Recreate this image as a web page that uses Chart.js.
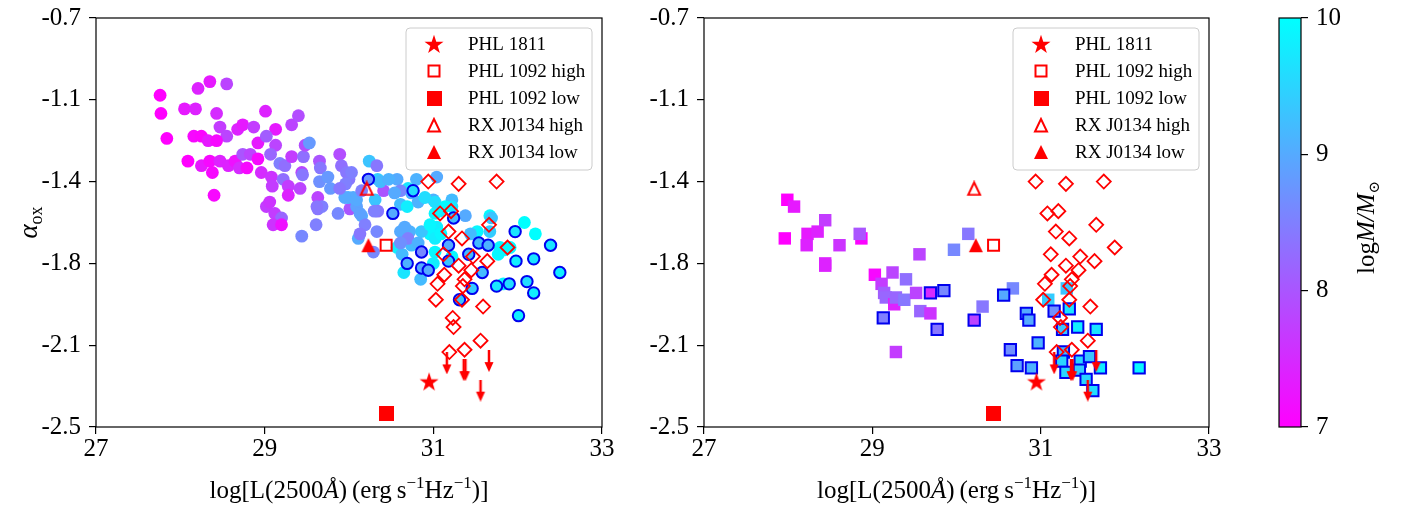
<!DOCTYPE html>
<html>
<head>
<meta charset="utf-8">
<script src="https://cdn.jsdelivr.net/npm/chart.js@4.4.0/dist/chart.umd.min.js"></script>
<style>
    html, body { margin: 0; padding: 0; background: #fff; }
    #wrap { position: relative; width: 1403px; height: 509px; overflow: hidden; }
    canvas { position: absolute; top: 0; }
</style>
</head>
<body>
<div id="wrap">
    <canvas id="leftChart" width="640" height="509" style="left:0"></canvas>
    <canvas id="rightChart" width="620" height="509" style="left:640px"></canvas>
    <canvas id="barChart" width="143" height="509" style="left:1260px"></canvas>
</div>
<script>
// ---- data ----
var xTicks = [27, 29, 31, 33];
var yTicks = [-0.7, -1.06, -1.42, -1.78, -2.14, -2.5];
var yTickLabels = ['-0.7', '-1.1', '-1.4', '-1.8', '-2.1', '-2.5'];
var massRange = [7, 10];
var massTicks = [7, 8, 9, 10];

// left panel, filled circles
var leftX = [27.76, 27.77, 27.84, 28.05, 28.18, 28.21, 28.35, 28.55, 28.43, 28.09,
    28.16, 28.25, 28.33, 28.47, 28.55, 28.43, 28.25, 28.35, 28.38, 28.47,
    28.40, 28.57, 28.65, 28.70, 28.74, 28.79, 28.83, 28.68, 28.74, 28.87,
    29.01, 29.13, 28.92, 29.02, 29.13, 28.92, 28.96, 29.07, 29.08, 29.09,
    29.18, 29.24, 29.32, 29.32, 29.40, 29.22, 29.28, 29.28, 29.02, 29.06,
    29.12, 29.20, 29.10, 29.44, 29.45, 29.42, 29.46, 29.48, 29.53, 29.65,
    29.66, 29.63, 29.63, 29.68, 29.61, 29.65, 29.75, 29.78, 29.87, 29.89,
    29.91, 29.97, 30.00, 29.96, 30.01, 30.09, 29.99, 30.15, 30.19, 30.24,
    30.33, 30.34, 30.31, 30.34, 29.20, 29.44, 30.11, 30.41, 30.37, 30.57,
    30.80, 31.04, 30.70, 30.61, 30.69, 30.82, 31.00, 31.07, 31.38, 31.22,
    31.04, 30.96, 30.72, 30.61, 30.33, 30.13, 30.30, 30.13, 30.05, 30.29,
    30.57, 30.74, 30.65, 30.85, 31.02, 31.52, 31.67, 31.79, 31.85, 32.08,
    32.21, 31.69, 31.67, 31.91, 31.77, 31.83, 30.86, 31.02, 31.02, 30.63,
    30.74, 30.61, 31.02, 31.22, 31.00, 31.22, 30.03, 29.95, 30.09, 30.15,
    29.89, 30.47, 30.54, 30.66, 30.90, 31.14, 30.96, 31.09, 31.44, 30.70,
    30.82, 30.61, 29.62];
var leftY = [-1.04, -1.12, -1.23, -1.10, -1.10, -1.01, -0.98, -0.99, -1.12, -1.33,
    -1.22, -1.22, -1.24, -1.18, -1.22, -1.24, -1.35, -1.33, -1.38, -1.33,
    -1.48, -1.35, -1.33, -1.36, -1.30, -1.36, -1.30, -1.19, -1.17, -1.18,
    -1.11, -1.19, -1.25, -1.22, -1.26, -1.32, -1.38, -1.30, -1.40, -1.44,
    -1.34, -1.35, -1.31, -1.17, -1.13, -1.41, -1.44, -1.48, -1.53, -1.51,
    -1.56, -1.58, -1.61, -1.38, -1.39, -1.45, -1.31, -1.26, -1.25, -1.33,
    -1.36, -1.49, -1.54, -1.53, -1.61, -1.42, -1.40, -1.45, -1.56, -1.30,
    -1.35, -1.38, -1.41, -1.43, -1.54, -1.53, -1.49, -1.57, -1.61, -1.33,
    -1.35, -1.41, -1.50, -1.55, -1.61, -1.66, -1.67, -1.46, -1.42, -1.41,
    -1.41, -1.40, -1.45, -1.52, -1.53, -1.51, -1.50, -1.55, -1.57, -1.50,
    -1.62, -1.65, -1.64, -1.64, -1.64, -1.65, -1.55, -1.56, -1.49, -1.73,
    -1.71, -1.70, -1.82, -1.85, -1.73, -1.64, -1.57, -1.71, -1.72, -1.60,
    -1.65, -1.58, -1.64, -1.71, -1.74, -1.87, -1.64, -1.56, -1.67, -1.74,
    -1.47, -1.46, -1.51, -1.53, -1.78, -1.75, -1.38, -1.49, -1.50, -1.46,
    -1.45, -1.41, -1.47, -1.62, -1.49, -1.53, -1.61, -1.65, -1.65, -1.67,
    -1.69, -1.69, -1.53];
var leftMass = [7.0, 7.0, 7.0, 7.3, 7.4, 7.4, 7.3, 7.8, 7.5, 7.0,
    7.1, 7.05, 7.3, 7.7, 7.8, 7.1, 7.3, 7.1, 7.1, 7.4,
    7.1, 7.4, 7.2, 7.5, 8.0, 7.1, 7.8, 7.4, 7.3, 7.7,
    7.4, 7.3, 7.3, 8.1, 7.8, 7.1, 7.5, 8.2, 7.6, 7.7,
    8.5, 8.3, 7.7, 7.8, 7.9, 8.3, 7.7, 7.4, 7.7, 7.6,
    7.7, 8.2, 7.6, 7.8, 8.4, 7.8, 8.3, 7.9, 8.8, 8.0,
    8.4, 7.8, 8.4, 8.5, 8.5, 8.7, 8.8, 8.8, 8.6, 7.9,
    8.3, 8.4, 8.4, 8.5, 8.0, 8.9, 9.1, 9.0, 8.5, 9.3,
    8.4, 9.4, 9.3, 8.4, 7.2, 8.6, 9.0, 8.0, 9.2, 9.0,
    9.1, 9.0, 9.7, 9.2, 9.8, 9.1, 9.1, 9.7, 9.0, 9.2,
    9.8, 9.9, 9.1, 9.0, 8.6, 8.4, 8.5, 8.9, 9.0, 8.6,
    9.8, 9.2, 9.7, 9.2, 9.9, 9.9, 9.9, 9.9, 9.9, 10,
    10, 9.3, 9.4, 9.9, 9.9, 9.9, 9.3, 9.9, 9.8, 9.2,
    9.1, 8.6, 9.6, 9.7, 9.8, 9.9, 8.5, 9.0, 9.0, 8.5,
    8.4, 9.1, 9.0, 9.0, 9.6, 9.9, 9.9, 9.9, 9.2, 8.5,
    9.1, 8.7, 8.4];

// left panel, circles with blue edge
var leftEdgeX = [30.23, 30.76, 30.52, 31.24, 30.86, 30.69, 30.86, 30.94, 31.18, 31.18,
    31.42, 31.54, 31.65, 31.58, 31.46, 31.31, 31.97, 31.98, 32.19, 32.39,
    32.50, 31.75, 31.90, 32.11, 32.19, 32.01];
var leftEdgeY = [-1.41, -1.46, -1.56, -1.58, -1.73, -1.78, -1.80, -1.81, -1.70, -1.77,
    -1.74, -1.69, -1.70, -1.82, -1.89, -1.94, -1.64, -1.77, -1.76, -1.70,
    -1.82, -1.88, -1.87, -1.86, -1.91, -2.01];
var leftEdgeMass = [8.8, 9.6, 9.0, 9.2, 8.6, 9.1, 9.0, 9.0, 9.0, 9.3,
    9.2, 9.2, 9.1, 9.2, 9.4, 9.3, 9.7, 9.8, 9.7, 9.7,
    9.8, 9.7, 9.6, 9.6, 9.8, 9.8];

// right panel, filled squares
var rightX = [27.99, 28.07, 27.96, 28.23, 28.22, 28.35, 28.44, 28.44, 28.44, 28.61,
    28.87, 28.85, 29.03, 29.11, 29.24, 29.40, 29.14, 29.16, 29.26, 29.28,
    29.38, 29.52, 29.57, 29.69, 29.56, 29.28, 29.97, 30.14, 30.31, 30.67,
    31.09, 31.31];
var rightY = [-1.50, -1.53, -1.67, -1.65, -1.70, -1.64, -1.59, -1.78, -1.79, -1.70,
    -1.67, -1.65, -1.83, -1.87, -1.82, -1.85, -1.91, -1.93, -1.96, -1.93,
    -1.94, -1.91, -1.99, -2.00, -1.74, -2.17, -1.72, -1.65, -1.97, -1.89,
    -1.94, -1.89];
var rightMass = [7.0, 7.3, 7.0, 7.3, 7.4, 7.4, 7.7, 7.4, 7.4, 7.6,
    7.05, 8.0, 7.1, 7.7, 7.8, 8.3, 8.1, 8.2, 7.4, 8.2,
    8.4, 7.8, 8.2, 7.6, 7.8, 7.7, 8.6, 8.4, 8.4, 8.6,
    9.4, 9.3];

// right panel, squares with blue edge
var rightEdgeX = [29.13, 29.69, 29.85, 29.77, 30.21, 30.56, 30.83, 30.86, 30.97, 30.64,
    30.72, 30.89, 31.16, 31.34, 31.26, 31.44, 31.66, 31.27, 31.25, 31.30,
    31.47, 31.46, 31.58, 31.54, 31.62, 31.71, 32.17];
var rightEdgeY = [-2.02, -1.91, -1.90, -2.07, -2.03, -1.92, -2.00, -2.03, -2.13, -2.16,
    -2.23, -2.24, -1.99, -1.98, -2.07, -2.06, -2.07, -2.17, -2.21, -2.26,
    -2.21, -2.25, -2.19, -2.29, -2.34, -2.24, -2.24];
var rightEdgeMass = [8.5, 7.5, 8.6, 8.4, 7.8, 9.0, 9.0, 9.0, 9.1, 8.7,
    8.9, 9.1, 8.7, 9.7, 9.3, 9.8, 9.7, 9.2, 9.5, 9.5,
    9.5, 9.4, 9.3, 9.5, 9.6, 9.8, 9.9];

// open red diamonds (both panels)
var diamondX = [30.94, 31.30, 31.75, 31.08, 31.21, 31.18, 31.34, 31.66, 31.88, 31.12,
    31.30, 31.47, 31.64, 31.13, 31.45, 31.05, 31.37, 31.35, 31.03, 31.34,
    31.59, 31.23, 31.24, 31.56, 31.19, 31.37];
var diamondY = [-1.42, -1.43, -1.42, -1.56, -1.55, -1.64, -1.67, -1.61, -1.71, -1.74,
    -1.79, -1.75, -1.77, -1.83, -1.81, -1.87, -1.85, -1.88, -1.94, -1.94,
    -1.97, -2.02, -2.06, -2.12, -2.17, -2.16];

// upper limits (arrows)
var limitX = [31.16, 31.36, 31.38, 31.66, 31.56];
var limitY = [-2.22, -2.25, -2.25, -2.21, -2.34];

// named sources
var specialNames = ['PHL 1811', 'PHL 1092 high', 'PHL 1092 low', 'RX J0134 high', 'RX J0134 low'];
var specialX = [30.95, 30.44, 30.44, 30.21, 30.23];
var specialY = [-2.30, -1.70, -2.44, -1.45, -1.70];

// ---- helpers ----
var FONT = "'Liberation Serif', 'DejaVu Serif', serif";

// matplotlib "cool" colormap over 7..10
function cool(m) {
    var t = Math.min(1, Math.max(0, (m - massRange[0]) / (massRange[1] - massRange[0])));
    return 'rgb(' + Math.round(255 * (1 - t)) + ',' + Math.round(255 * t) + ',255)';
}

function points(xs, ys) {
    return xs.map(function(x, i) { return {x: x, y: ys[i]}; });
}

function makeMarker(w, h, draw) {
    var c = document.createElement('canvas');
    c.width = w;
    c.height = h;
    var g = c.getContext('2d');
    g.fillStyle = 'red';
    g.strokeStyle = 'red';
    draw(g);
    return c;
}

var markers = {
    star: makeMarker(20, 20, function(g) {
        g.beginPath();
        for (var i = 0; i < 10; i++) {
            var r = i % 2 ? 3.9 : 10;
            var a = -Math.PI / 2 + i * Math.PI / 5;
            g.lineTo(10 + r * Math.cos(a), 10.8 + r * Math.sin(a));
        }
        g.closePath();
        g.fill();
    }),
    openSquare: makeMarker(15, 15, function(g) {
        g.lineWidth = 2;
        g.strokeRect(2, 2, 11, 11);
    }),
    fullSquare: makeMarker(15, 15, function(g) {
        g.fillRect(0, 0, 15, 15);
    }),
    openTri: makeMarker(16, 16, function(g) {
        g.lineWidth = 2;
        g.beginPath();
        g.moveTo(8, 2);
        g.lineTo(2, 14.5);
        g.lineTo(14, 14.5);
        g.closePath();
        g.stroke();
    }),
    fullTri: makeMarker(16, 16, function(g) {
        g.beginPath();
        g.moveTo(8, 1);
        g.lineTo(1, 15);
        g.lineTo(15, 15);
        g.closePath();
        g.fill();
    }),
    arrow: makeMarker(12, 22, function(g) {
        g.lineWidth = 2.5;
        g.beginPath();
        g.moveTo(6, 0);
        g.lineTo(6, 15);
        g.stroke();
        g.beginPath();
        g.moveTo(1.5, 12);
        g.lineTo(10.5, 12);
        g.lineTo(6, 22);
        g.closePath();
        g.fill();
    })
};
var specialMarkers = [markers.star, markers.openSquare, markers.fullSquare, markers.openTri, markers.fullTri];

// text with mixed fonts / sub- and superscripts, centred on (x, y)
function drawRich(g, segs, x, y, rot) {
    g.save();
    g.translate(x, y);
    g.rotate(rot || 0);
    g.textBaseline = 'alphabetic';
    g.textAlign = 'left';
    g.fillStyle = '#000';
    var total = 0;
    segs.forEach(function(s) { g.font = s[1]; total += g.measureText(s[0]).width; });
    var cx = -total / 2;
    segs.forEach(function(s) {
        g.font = s[1];
        g.fillText(s[0], cx, s[2]);
        cx += g.measureText(s[0]).width;
    });
    g.restore();
}

var R25 = '25px ' + FONT, I25 = 'italic 25px ' + FONT, R17 = '17px ' + FONT;
var xTitle = [['log[L(2500', R25, 0], ['\u00c5', I25, 0], [')\u2009(erg\u2009s', R25, 0],
    ['\u22121', R17, -10], ['Hz', R25, 0], ['\u22121', R17, -10], [')]', R25, 0]];
var yTitle = [['\u03b1', 'italic 27px ' + FONT, 0], ['ox', '18px ' + FONT, 5]];
var cbarTitle = [['log', R25, 0], ['M/M', I25, 0], ['\u2299', '15px ' + FONT, 5]];

function drawLegend(g, area) {
    var w = 186, h = 142;
    var left = area.right - 10 - w, top = area.top + 10;
    g.save();
    g.beginPath();
    g.roundRect(left, top, w, h, 4);
    g.fillStyle = 'rgba(255,255,255,0.8)';
    g.fill();
    g.strokeStyle = '#cccccc';
    g.lineWidth = 1;
    g.stroke();
    g.font = '19px ' + FONT;
    g.fillStyle = '#000';
    g.textBaseline = 'middle';
    specialNames.forEach(function(name, i) {
        var y = top + 16 + 27 * i;
        var m = specialMarkers[i];
        g.drawImage(m, left + 28 - m.width / 2, y - m.height / 2);
        g.fillText(name, left + 62, y + 1);
    });
    g.restore();
}

function makePanelPlugin(showYTitle) {
    return {
        id: 'panel',
        afterDraw: function(chart) {
            var a = chart.chartArea, g = chart.ctx;
            g.save();
            g.strokeStyle = '#000';
            g.lineWidth = 1.2;
            g.strokeRect(a.left, a.top, a.right - a.left, a.bottom - a.top);
            g.restore();
            drawLegend(g, a);
            drawRich(g, xTitle, (a.left + a.right) / 2, a.bottom + 71, 0);
            if (showYTitle) {
                drawRich(g, yTitle, 37, (a.top + a.bottom) / 2, -Math.PI / 2);
            }
        }
    };
}

function panelDatasets(shape, mainX, mainY, mainMass, edgeX, edgeY, edgeMass) {
    var round = shape === 'circle';
    return [
        {
            data: points(specialX, specialY),
            pointStyle: specialMarkers,
            pointRadius: 8,
            order: 0
        },
        {
            data: points(limitX, limitY),
            pointStyle: markers.arrow,
            pointRadius: 8,
            order: 1
        },
        {
            data: points(diamondX, diamondY),
            pointStyle: 'rectRot',
            pointRadius: 7,
            pointBorderWidth: 1.8,
            pointBorderColor: 'red',
            pointBackgroundColor: 'rgba(0,0,0,0)',
            order: 2
        },
        {
            data: points(edgeX, edgeY),
            pointStyle: shape,
            pointRadius: round ? 5.7 : 8.0,
            pointBorderWidth: 2,
            pointBorderColor: '#0000ee',
            pointBackgroundColor: edgeMass.map(cool),
            order: 3
        },
        {
            data: points(mainX, mainY),
            pointStyle: shape,
            pointRadius: round ? 6.4 : 8.8,
            pointBorderWidth: 0,
            pointBackgroundColor: mainMass.map(cool),
            order: 4
        }
    ];
}

var tickFont = {family: FONT, size: 25, lineHeight: 0.8};
var tickGrid = {drawOnChartArea: false, drawTicks: true, tickLength: 7, color: '#000', lineWidth: 1.2};

function panelOptions(yAxisWidth, rightPad) {
    return {
        responsive: false,
        animation: false,
        events: [],
        layout: {padding: {top: 10, right: rightPad, left: 0, bottom: 0}},
        plugins: {legend: {display: false}, tooltip: {enabled: false}},
        scales: {
            x: {
                type: 'linear',
                min: xTicks[0],
                max: xTicks[xTicks.length - 1],
                afterBuildTicks: function(s) { s.ticks = xTicks.map(function(v) { return {value: v}; }); },
                afterFit: function(s) { s.height = 82; },
                grid: tickGrid,
                border: {display: false},
                ticks: {font: tickFont, color: '#000', padding: 5, maxRotation: 0, autoSkip: false,
                    callback: function(v) { return String(v); }}
            },
            y: {
                type: 'linear',
                min: yTicks[yTicks.length - 1],
                max: yTicks[0],
                afterBuildTicks: function(s) { s.ticks = yTicks.map(function(v) { return {value: v}; }); },
                afterFit: function(s) { s.width = yAxisWidth; },
                grid: tickGrid,
                border: {display: false},
                ticks: {font: tickFont, color: '#000', padding: 8, autoSkip: false,
                    callback: function(v) {
                        for (var i = 0; i < yTicks.length; i++) {
                            if (Math.abs(yTicks[i] - v) < 1e-6) return yTickLabels[i];
                        }
                        return '';
                    }}
            }
        }
    };
}

new Chart(document.getElementById('leftChart'), {
    type: 'scatter',
    data: {datasets: panelDatasets('circle', leftX, leftY, leftMass, leftEdgeX, leftEdgeY, leftEdgeMass)},
    options: panelOptions(96, 38),
    plugins: [makePanelPlugin(true)]
});

new Chart(document.getElementById('rightChart'), {
    type: 'scatter',
    data: {datasets: panelDatasets('rect', rightX, rightY, rightMass, rightEdgeX, rightEdgeY, rightEdgeMass)},
    options: panelOptions(64, 51),
    plugins: [makePanelPlugin(false)]
});

// colour bar
new Chart(document.getElementById('barChart'), {
    type: 'bar',
    data: {
        labels: [''],
        datasets: [{
            data: [massRange],
            barPercentage: 1,
            categoryPercentage: 1,
            borderWidth: 0,
            inflateAmount: 0,
            backgroundColor: function(c) {
                var a = c.chart.chartArea;
                if (!a) return cool(8.5);
                var grad = c.chart.ctx.createLinearGradient(0, a.bottom, 0, a.top);
                grad.addColorStop(0, cool(massRange[0]));
                grad.addColorStop(1, cool(massRange[1]));
                return grad;
            }
        }]
    },
    options: {
        responsive: false,
        animation: false,
        events: [],
        layout: {padding: {top: 10, bottom: 82, left: 19, right: 0}},
        plugins: {legend: {display: false}, tooltip: {enabled: false}},
        scales: {
            x: {display: false},
            y: {
                position: 'right',
                min: massRange[0],
                max: massRange[1],
                afterBuildTicks: function(s) { s.ticks = massTicks.map(function(v) { return {value: v}; }); },
                afterFit: function(s) { s.width = 102; },
                grid: tickGrid,
                border: {display: false},
                ticks: {font: tickFont, color: '#000', padding: 8, autoSkip: false}
            }
        }
    },
    plugins: [{
        id: 'cbar',
        afterDraw: function(chart) {
            var a = chart.chartArea, g = chart.ctx;
            g.save();
            g.strokeStyle = '#000';
            g.lineWidth = 1.2;
            g.strokeRect(a.left, a.top, a.right - a.left, a.bottom - a.top);
            g.restore();
            drawRich(g, cbarTitle, 114, (a.top + a.bottom) / 2 + 5, -Math.PI / 2);
        }
    }]
});
</script>
</body>
</html>
